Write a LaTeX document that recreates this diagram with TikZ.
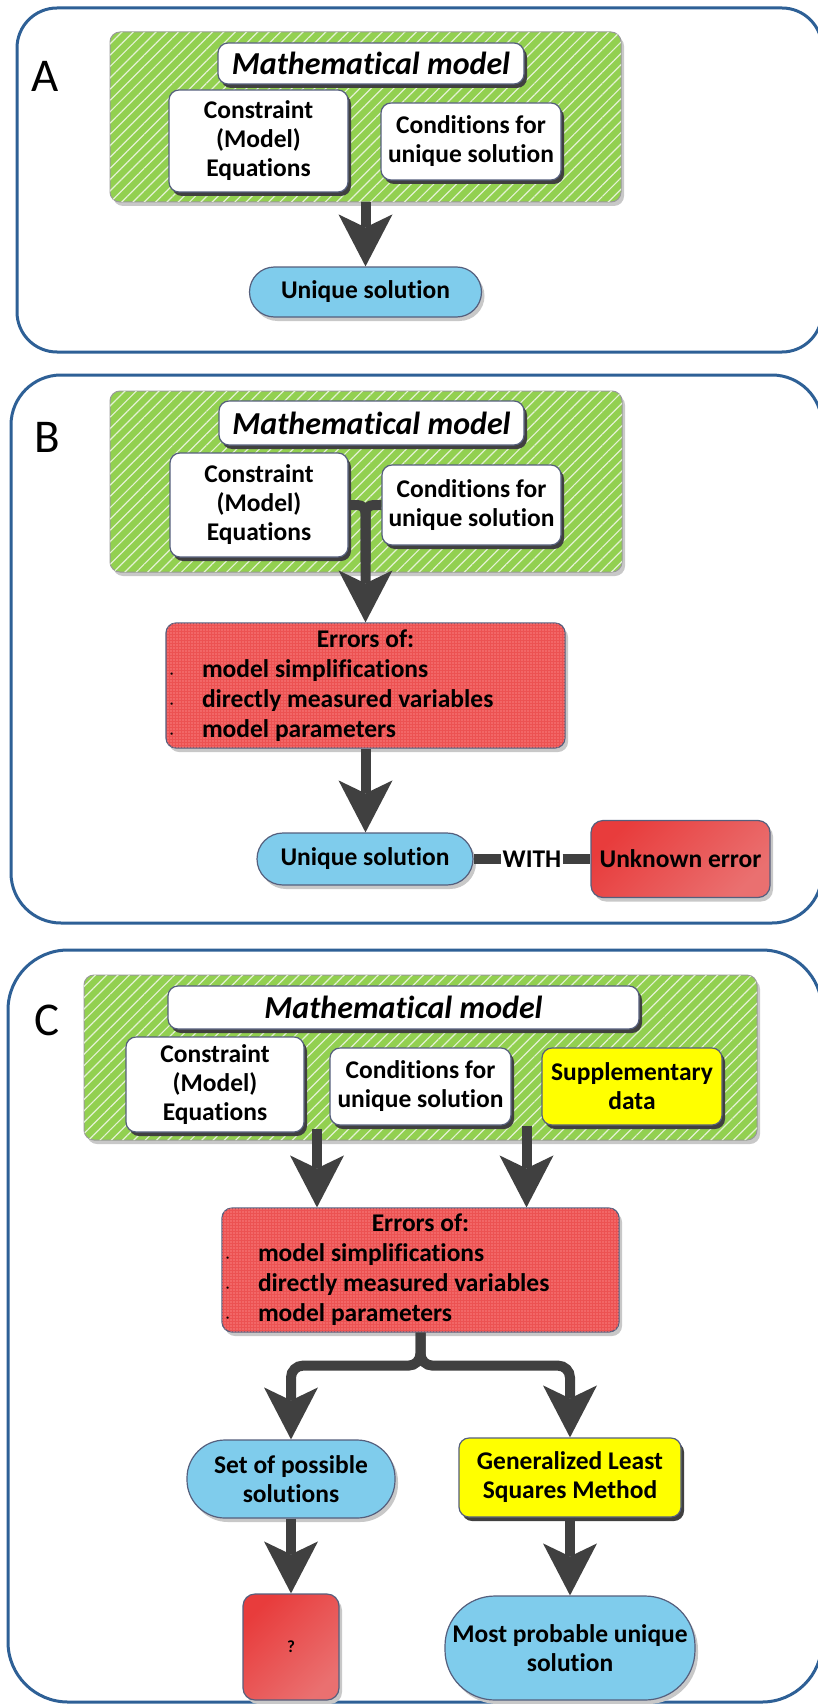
\documentclass[tikz,border=0pt]{standalone}
\usepackage{fontspec}
\setmainfont{Carlito}[Ligatures=NoCommon]
\usetikzlibrary{arrows.meta,shadows,patterns.meta,calc}
\definecolor{frameblue}{RGB}{46,96,150}
\definecolor{mygreen}{RGB}{146,208,80}
\definecolor{stripe}{RGB}{228,242,212}
\definecolor{boxedge}{RGB}{85,95,125}
\definecolor{shadowdark}{RGB}{64,64,64}
\definecolor{shadowlight}{RGB}{200,200,200}
\definecolor{arrowgray}{RGB}{64,64,64}
\definecolor{pillblue}{RGB}{127,204,236}
\definecolor{erred}{RGB}{236,82,82}
\definecolor{errdots}{RGB}{250,125,125}
\definecolor{reddark}{RGB}{232,60,60}
\definecolor{redlight}{RGB}{234,112,112}
\definecolor{myyellow}{RGB}{255,255,0}
\newcommand{\errlines}[1]{\parbox{#1}{\centering Errors of:\par\raggedright
\makebox[36pt][l]{\hspace{4pt}{\fontsize{12}{12}\selectfont\textperiodcentered}}model simplifications\par
\makebox[36pt][l]{\hspace{4pt}{\fontsize{12}{12}\selectfont\textperiodcentered}}directly measured variables\par
\makebox[36pt][l]{\hspace{4pt}{\fontsize{12}{12}\selectfont\textperiodcentered}}model parameters\par}}
\tikzset{
  panelframe/.style={draw=frameblue, line width=3pt, rounded corners=#1},
  txt/.style={font=\bfseries\fontsize{25.5}{29}\selectfont, text=black},
  lettr/.style={font=\fontsize{47}{50}\selectfont, anchor=base, inner sep=0pt},
  greenbox/.style={draw=gray!80, line width=1pt, fill=mygreen, rounded corners=10pt,
    drop shadow={shadow xshift=3pt, shadow yshift=-4pt, fill=shadowlight, opacity=1},
    postaction={pattern={Lines[angle=45,distance=8pt,line width=1.2pt]}, pattern color=stripe}},
  mathbox/.style={draw=boxedge, line width=1.2pt, fill=white, rounded corners=10pt, inner sep=0pt,
    font=\bfseries\itshape\fontsize{32}{34}\selectfont,
    drop shadow={shadow xshift=3pt, shadow yshift=-4pt, fill=shadowdark, opacity=1}},
  whitebox/.style={txt, draw=boxedge, line width=1.2pt, fill=white, rounded corners=10pt, align=center, inner sep=0pt,
    drop shadow={shadow xshift=3pt, shadow yshift=-4pt, fill=shadowdark, opacity=1}},
  yellowbox/.style={whitebox, fill=myyellow},
  pill/.style={txt, draw=boxedge, line width=1.2pt, fill=pillblue, rounded corners=#1, align=center, inner sep=0pt,
    drop shadow={shadow xshift=3pt, shadow yshift=-4pt, fill=shadowlight, opacity=1}},
  errbox/.style={font=\bfseries\fontsize{25.5}{30}\selectfont, draw=boxedge, line width=1.2pt, fill=erred, rounded corners=10pt, inner sep=0pt,
    drop shadow={shadow xshift=3pt, shadow yshift=-4pt, fill=shadowlight, opacity=1},
    postaction={pattern={Dots[distance=3pt,radius=0.8pt]}, pattern color=errdots}},
  redbox/.style={txt, draw=boxedge, line width=1.2pt, rounded corners=12pt, inner sep=0pt, align=center,
    drop shadow={shadow xshift=3pt, shadow yshift=-4pt, fill=shadowlight, opacity=1},
    top color=reddark, bottom color=redlight, shading angle=45},
  arr/.style={draw=arrowgray, line width=10pt, -{Stealth[length=52pt,width=54pt,inset=13pt,line width=0pt]}},
  bar/.style={draw=arrowgray, line width=10pt},
}
\begin{document}
\begin{tikzpicture}[x=1pt,y=-1pt]
\useasboundingbox (0,0) rectangle (818,1704);
\fill[white] (0,0) rectangle (818,1704);
\clip (0,0) rectangle (818,1704);

% ---------- Panel A ----------
\draw[panelframe=40pt] (17,8) rectangle (822,352);
\node[lettr] (labA) at (45,92) {A};
\node[greenbox, minimum width=511pt, minimum height=170pt] (gA) at (365.5,117) {};
\node[mathbox, minimum width=306pt, minimum height=41pt] (mA) at (371,63.5) {Mathematical model};
\node[whitebox, minimum width=179pt, minimum height=102pt] (cA1) at (258.5,141) {Constraint\\(Model)\\Equations};
\node[whitebox, minimum width=180pt, minimum height=77pt] (cA2) at (471,141.5) {Conditions for\\unique solution};
\node[pill=25pt, minimum width=232pt, minimum height=50pt] (uA) at (365.5,292) {Unique solution};
\draw[arr] (gA.south) -- (gA.south |- uA.north);

% ---------- Panel B ----------
\draw[panelframe=50pt] (11,375) rectangle (822,923);
\node[lettr] (labB) at (47,452) {B};
\node[greenbox, minimum width=512pt, minimum height=181pt] (gB) at (366,481.5) {};
\node[mathbox, minimum width=305pt, minimum height=44pt] (mB) at (371.5,423) {Mathematical model};
\node[whitebox, minimum width=178pt, minimum height=104pt] (cB1) at (259,505) {Constraint\\(Model)\\Equations};
\node[whitebox, minimum width=179pt, minimum height=80pt] (cB2) at (471.5,505) {Conditions for\\unique solution};
\node[errbox, minimum width=399pt, minimum height=125pt] (eB) at (365.5,685.5) {\errlines{399pt}};
\node[pill=26pt, minimum width=216pt, minimum height=52pt] (uB) at (365,859) {Unique solution};
\node[redbox, minimum width=179pt, minimum height=77pt] (kB) at (680.5,859) {Unknown error};
\node[txt, fill=white, inner sep=1pt] (with) at ($(uB.east)!0.5!(kB.west)$) {WITH};
\draw[bar] (uB) -- (with);
\draw[bar] (with) -- (kB);
\draw[bar, rounded corners=8pt, shorten >=60pt] (cB2.west) -| (eB.north);
\draw[arr, rounded corners=8pt] (cB1.east) -| (eB.north);
\draw[arr] (eB.south) -- (eB.south |- uB.north);

% ---------- Panel C ----------
\draw[panelframe=60pt] (8,950) rectangle (822,1702);
\node[lettr] (labC) at (47,1035) {C};
\node[greenbox, minimum width=673pt, minimum height=165pt] (gC) at (420.5,1057.5) {};
\node[mathbox, minimum width=471pt, minimum height=43pt] (mC) at (403.5,1007.5) {Mathematical model};
\node[whitebox, minimum width=178pt, minimum height=95pt] (cC1) at (215,1084.5) {Constraint\\(Model)\\Equations};
\node[whitebox, minimum width=181pt, minimum height=77pt] (cC2) at (420.5,1086.5) {Conditions for\\unique solution};
\node[yellowbox, minimum width=180pt, minimum height=77pt] (sC) at (632,1086.5) {Supplementary\\data};
\node[errbox, minimum width=397pt, minimum height=124pt] (eC) at (420.5,1270) {\errlines{397pt}};
\node[pill=38pt, minimum width=208pt, minimum height=78pt] (pC) at (291,1479) {Set of possible\\solutions};
\node[yellowbox, minimum width=222pt, minimum height=79pt] (lC) at (570,1477.5) {Generalized Least\\Squares Method};
\node[redbox, font=\bfseries\fontsize{17}{19}\selectfont, minimum width=96pt, minimum height=106pt] (qC) at (291,1647) {?};
\node[pill=50pt, minimum width=250pt, minimum height=104pt] (mpC) at (570,1648) {Most probable unique\\solution};
\coordinate (jl) at ($(cC1.south east)!0.5!(cC2.south west)$);
\coordinate (jr) at ($(cC2.south east)!0.5!(sC.south west)$);
\draw[arr] (jl) -- (jl |- eC.north);
\draw[arr] (jr) -- (jr |- eC.north);
\draw[arr, rounded corners=12pt] (eC.south) -- ++(0,33) -| (pC.north);
\draw[arr, rounded corners=12pt] (eC.south) -- ++(0,33) -| (lC.north);
\draw[arr] (pC.south) -- (pC.south |- qC.north);
\draw[arr] (lC.south) -- (lC.south |- mpC.north);
\end{tikzpicture}
\end{document}
